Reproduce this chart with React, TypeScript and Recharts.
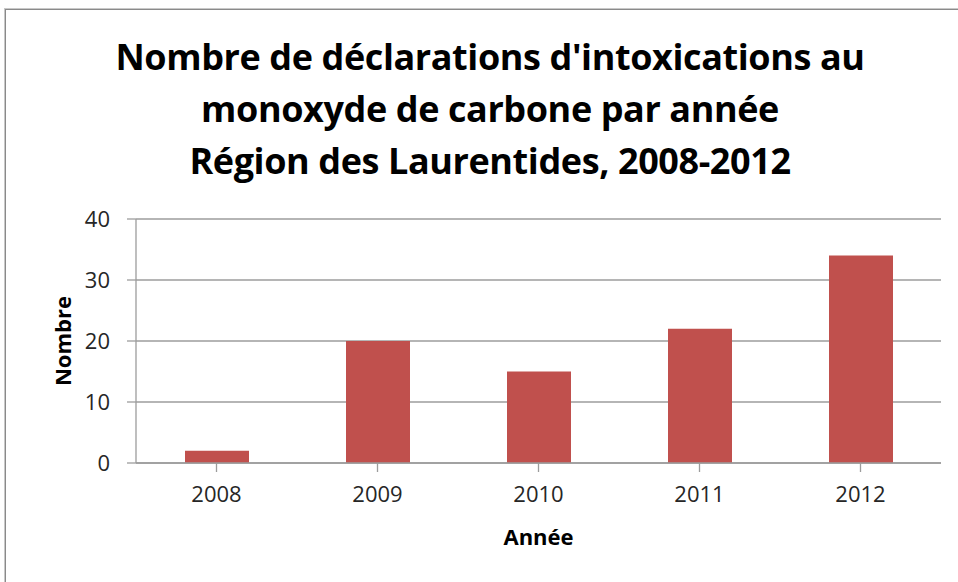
import { Bar, BarChart, CartesianGrid, XAxis, YAxis, Label } from 'recharts';

const years = ['2008', '2009', '2010', '2011', '2012'];
const counts = [2, 20, 15, 22, 34];
const yTicks = [0, 10, 20, 30, 40];
const titleLines = [
  "Nombre de déclarations d'intoxications au",
  'monoxyde de carbone par année',
  'Région des Laurentides, 2008-2012',
];

const data = years.map((year, i) => ({ year, value: counts[i] }));

const FONT = '"Open Sans", sans-serif';

const YTitle = ({ viewBox }: any) => {
  const x = viewBox.x + 11;
  const y = viewBox.y + viewBox.height / 2;
  return (
    <text
      x={x}
      y={y}
      transform={`rotate(-90, ${x}, ${y})`}
      textAnchor="middle"
      dominantBaseline="central"
      fontFamily={FONT}
      fontWeight={700}
      fontSize={22}
      fill="#000"
    >
      Nombre
    </text>
  );
};

export default function App() {
  return (
    <div
      style={{
        position: 'absolute',
        left: 0,
        top: 0,
        width: 958,
        height: 582,
        background: '#fff',
        overflow: 'hidden',
        fontFamily: FONT,
      }}
    >
      <div
        style={{
          position: 'absolute',
          left: 5,
          top: 9,
          width: 970,
          height: 600,
          border: '1px solid #8a8a8a',
          boxShadow: '-1px -1px 0 #c8c8c8',
        }}
      />
      <div
        style={{
          position: 'absolute',
          left: 40,
          top: 31,
          width: 900,
          textAlign: 'center',
          fontWeight: 700,
          fontSize: 36,
          lineHeight: '52px',
          letterSpacing: -0.4,
          color: '#000',
        }}
      >
        {titleLines.map((t) => (
          <div key={t}>{t}</div>
        ))}
      </div>
      <div style={{ position: 'absolute', left: 0, top: 0 }}>
        <BarChart
          width={958}
          height={582}
          data={data}
          margin={{ top: 219, right: 17, bottom: 59, left: 51 }}
          barCategoryGap="20%"
        >
          <CartesianGrid vertical={false} stroke="#9c9c9c" strokeWidth={1.3} />
          <XAxis
            dataKey="year"
            height={60}
            stroke="#9c9c9c"
            strokeWidth={1.3}
            tickSize={9}
            tickMargin={14}
            tick={{ fill: '#262626', fontSize: 22, fontFamily: FONT }}
            interval={0}
          >
            <Label
              value="Année"
              position="bottom"
              offset={6}
              style={{ fontFamily: FONT, fontWeight: 700, fontSize: 22, fill: '#000' }}
            />
          </XAxis>
          <YAxis
            width={85}
            domain={[0, 40]}
            ticks={yTicks}
            stroke="#9c9c9c"
            strokeWidth={1.3}
            tickSize={9}
            tickMargin={17}
            tick={{ fill: '#262626', fontSize: 22, fontFamily: FONT }}
            label={<YTitle />}
          />
          <Bar dataKey="value" fill="#C0504D" barSize={64} isAnimationActive={false} />
        </BarChart>
      </div>
    </div>
  );
}
